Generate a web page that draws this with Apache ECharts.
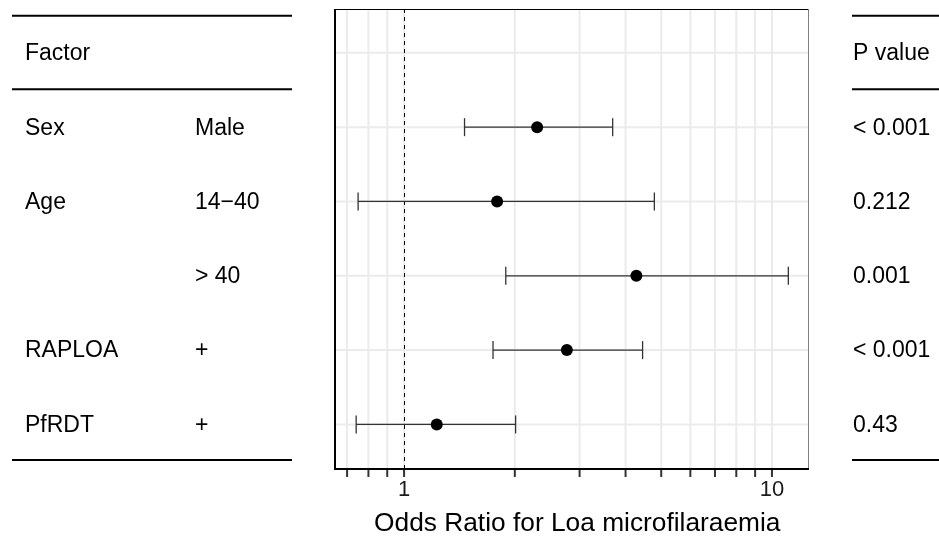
<!DOCTYPE html>
<html><head><meta charset="utf-8">
<script src="https://cdn.jsdelivr.net/npm/echarts@6/dist/echarts.min.js"></script>
<style>html,body{margin:0;padding:0;background:#fff}#c{width:939px;height:536px}</style>
</head><body><div id="c"></div>
<script>
// ---- data ----
const factors = ['Factor', 'Sex', 'Age', '', 'RAPLOA', 'PfRDT'];
const levels = ['', 'Male', '14\u221240', '> 40', '+', '+'];
const pValues = ['P value', '< 0.001', '0.212', '0.001', '< 0.001', '0.43'];
const tableRows = [0, 1, 2, 3, 4, 5];
const estRows = [1, 2, 3, 4, 5];
const oddsRatio = [2.30, 1.79, 4.28, 2.77, 1.227];
const ciLow = [1.46, 0.75, 1.89, 1.745, 0.741];
const ciHigh = [3.69, 4.79, 11.08, 4.45, 2.01];
const xGridTicks = [0.7, 0.8, 0.9, 1, 2, 3, 4, 5, 6, 7, 8, 9, 10];
const xRange = [0.649, 12.57];
const yRange = [-0.59, 5.6];
const refValue = 1;
const ruleRows = [-0.5, 0.49, 5.48];
const axisTitle = 'Odds Ratio for Loa microfilaraemia';

const FONT = 'Liberation Sans, Arial, Helvetica, sans-serif';
const chart = echarts.init(document.getElementById('c'), null, {renderer: 'canvas'});

function vGrid(params, api) {
  const cs = params.coordSys;
  const x = api.coord([api.value(0), 0])[0];
  const b = cs.y + cs.height;
  return {type: 'group', children: [
    {type: 'line', shape: {x1: x, y1: cs.y, x2: x, y2: b}, style: {stroke: '#ebebeb', lineWidth: 2}},
    {type: 'line', shape: {x1: x, y1: b + 1, x2: x, y2: b + 8}, style: {stroke: '#333333', lineWidth: 2}}
  ]};
}
function hGrid(params, api) {
  const cs = params.coordSys;
  const y = api.coord([1, api.value(1)])[1];
  return {type: 'line', shape: {x1: cs.x, y1: y, x2: cs.x + cs.width, y2: y}, style: {stroke: '#ebebeb', lineWidth: 2}};
}
function refLine(params, api) {
  const cs = params.coordSys;
  const x = Math.round(api.coord([api.value(0), 0])[0]) + 0.5;
  return {type: 'line', shape: {x1: x, y1: cs.y, x2: x, y2: cs.y + cs.height},
    style: {stroke: '#000', lineWidth: 1, lineDash: [4, 4]}};
}
function errBar(params, api) {
  const y = api.coord([1, api.value(0)])[1];
  const x1 = api.coord([api.value(1), 0])[0];
  const x2 = api.coord([api.value(2), 0])[0];
  const st = {stroke: '#333333', lineWidth: 1.3};
  return {type: 'group', children: [
    {type: 'line', shape: {x1: x1, y1: y, x2: x2, y2: y}, style: st},
    {type: 'line', shape: {x1: x1, y1: y - 9, x2: x1, y2: y + 9}, style: st},
    {type: 'line', shape: {x1: x2, y1: y - 9, x2: x2, y2: y + 9}, style: st}
  ]};
}
function frame(params, api) {
  const cs = params.coordSys;
  const l = cs.x, t = cs.y, r = cs.x + cs.width, b = cs.y + cs.height;
  return {type: 'group', children: [
    {type: 'line', shape: {x1: l, y1: t + 0.5, x2: r, y2: t + 0.5}, style: {stroke: '#000', lineWidth: 1}},
    {type: 'line', shape: {x1: r, y1: t, x2: r, y2: b}, style: {stroke: '#7f7f7f', lineWidth: 1}},
    {type: 'line', shape: {x1: l, y1: t, x2: l, y2: b + 1}, style: {stroke: '#000', lineWidth: 2}},
    {type: 'line', shape: {x1: l - 1, y1: b, x2: r + 0.5, y2: b}, style: {stroke: '#000', lineWidth: 2}}
  ]};
}
function tableText(params, api) {
  const i = params.dataIndex;
  const y = api.coord([1, api.value(1)])[1] + 1;
  const mk = (txt, x) => ({type: 'text', style: {text: txt, x: x, y: y, fontSize: 23, fontFamily: FONT,
    fill: '#000', align: 'left', verticalAlign: 'middle'}});
  return {type: 'group', children: [mk(factors[i], 25), mk(levels[i], 195), mk(pValues[i], 853)]};
}
function tableRule(params, api) {
  const y = api.coord([1, api.value(1)])[1];
  const st = {stroke: '#000', lineWidth: 2};
  return {type: 'group', children: [
    {type: 'line', shape: {x1: 12, y1: y, x2: 292, y2: y}, style: st},
    {type: 'line', shape: {x1: 852, y1: y, x2: 939, y2: y}, style: st}
  ]};
}

const option = {
  animation: false,
  backgroundColor: '#fff',
  grid: {left: 335, top: 9, width: 473.5, height: 460, containLabel: false, outerBoundsMode: 'none'},
  xAxis: {
    type: 'log', logBase: 10, min: xRange[0], max: xRange[1],
    axisLine: {show: false}, axisTick: {show: false}, splitLine: {show: false}, minorSplitLine: {show: false},
    axisLabel: {
      fontSize: 22, fontFamily: FONT, color: '#1a1a1a', margin: 10,
      formatter: function (v) {
        const e = Math.log10(v);
        return Math.abs(e - Math.round(e)) < 1e-6 ? String(Math.round(Math.pow(10, Math.round(e)))) : '';
      }
    },
    name: axisTitle, nameLocation: 'middle', nameGap: 42,
    nameTextStyle: {fontSize: 26.3, fontFamily: FONT, color: '#000', padding: [0, 0, 0, 11]}
  },
  yAxis: {
    type: 'value', inverse: true, min: yRange[0], max: yRange[1],
    axisLine: {show: false}, axisTick: {show: false}, axisLabel: {show: false}, splitLine: {show: false}
  },
  series: [
    {type: 'custom', renderItem: vGrid, data: xGridTicks.map(v => [v, 0]), silent: true, z: 1},
    {type: 'custom', renderItem: hGrid, data: tableRows.map(r => [1, r]), silent: true, z: 1},
    {type: 'custom', renderItem: refLine, data: [[refValue, 0]], silent: true, z: 2},
    {type: 'custom', renderItem: errBar, data: estRows.map((r, i) => [r, ciLow[i], ciHigh[i]]),
      encode: {x: [1, 2], y: 0}, silent: true, z: 3},
    {type: 'scatter', data: estRows.map((r, i) => [oddsRatio[i], r]), symbol: 'circle', symbolSize: 12,
      itemStyle: {color: '#000', opacity: 1}, silent: true, z: 4},
    {type: 'custom', renderItem: frame, data: [[1, 0]], silent: true, z: 5},
    {type: 'custom', renderItem: tableText, data: tableRows.map(r => [1, r]), silent: true, z: 5},
    {type: 'custom', renderItem: tableRule, data: ruleRows.map(r => [1, r]), silent: true, z: 5}
  ]
};
chart.setOption(option);
</script>
</body></html>
